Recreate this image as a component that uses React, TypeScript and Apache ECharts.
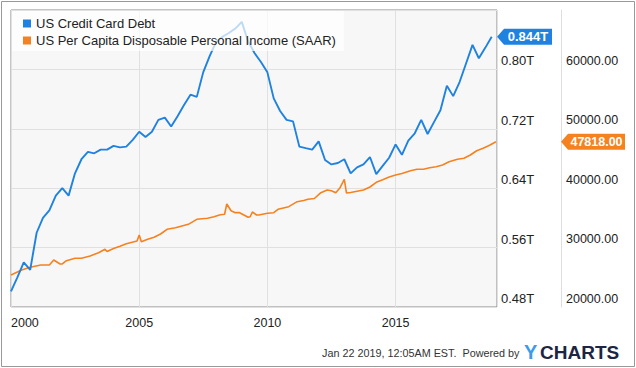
import React, { useEffect, useRef } from 'react';
import * as echarts from 'echarts';

// US Credit Card Debt (trillions USD), quarterly, first quarter-end 1999-12-31
const debtStart = { year: 1999, month: 12 };
const debtValues = [
  0.501, 0.520, 0.540, 0.530, 0.580, 0.600, 0.610, 0.630, 0.640, 0.630,
  0.660, 0.679, 0.689, 0.687, 0.692, 0.692, 0.697, 0.695, 0.696, 0.705,
  0.716, 0.709, 0.716, 0.732, 0.735, 0.723, 0.737, 0.752, 0.766, 0.763,
  0.796, 0.818, 0.837, 0.844, 0.849, 0.855, 0.864, 0.838, 0.822, 0.810,
  0.796, 0.761, 0.744, 0.732, 0.730, 0.696, 0.694, 0.692, 0.703, 0.678,
  0.672, 0.674, 0.679, 0.660, 0.668, 0.672, 0.682, 0.659, 0.670, 0.681,
  0.699, 0.685, 0.704, 0.714, 0.732, 0.713, 0.729, 0.745, 0.778, 0.764,
  0.783, 0.808, 0.833, 0.815, 0.829, 0.844,
];

// US Per Capita Disposable Personal Income (SAAR), monthly (end of month)
const incomeDates = [
  '1999-12-31', '2000-05-31', '2000-09-30', '2001-02-28', '2001-06-30', '2001-08-31', '2001-11-30', '2001-12-31',
  '2002-02-28', '2002-06-30', '2002-09-30', '2003-01-31', '2003-05-31', '2003-08-31', '2003-09-30', '2003-12-31',
  '2004-03-31', '2004-06-30', '2004-11-30', '2004-12-31', '2005-01-31', '2005-04-30', '2005-07-31', '2005-10-31',
  '2006-01-31', '2006-05-31', '2006-08-31', '2006-11-30', '2007-03-31', '2007-08-31', '2007-11-30', '2008-02-29',
  '2008-04-30', '2008-05-31', '2008-07-31', '2008-09-30', '2008-11-30', '2009-01-31', '2009-03-31', '2009-04-30',
  '2009-05-31', '2009-07-31', '2009-08-31', '2009-12-31', '2010-03-31', '2010-05-31', '2010-08-31', '2010-10-31',
  '2011-02-28', '2011-05-31', '2011-07-31', '2011-10-31', '2012-01-31', '2012-04-30', '2012-06-30', '2012-08-31',
  '2012-10-31', '2012-12-31', '2013-01-31', '2013-03-31', '2013-06-30', '2013-09-30', '2013-12-31', '2014-03-31',
  '2014-06-30', '2014-09-30', '2014-12-31', '2015-03-31', '2015-07-31', '2015-10-31', '2016-01-31', '2016-04-30',
  '2016-07-31', '2016-10-31', '2017-01-31', '2017-05-31', '2017-08-31', '2017-11-30', '2018-02-28', '2018-05-31',
  '2018-08-31', '2018-11-30',
];
const incomeValues = [
  25390, 26230, 26680, 27070, 27070, 27910, 27240, 27240,
  27800, 28200, 28200, 28590, 29140, 29710, 29340, 29850,
  30220, 30660, 31110, 32120, 30990, 31400, 31730, 32290,
  33080, 33350, 33640, 33920, 34760, 34930, 35200, 35540,
  35610, 37340, 36210, 35880, 35880, 35490, 35100, 35200,
  35990, 35490, 35490, 35770, 35880, 36450, 36720, 36890,
  37730, 37930, 38130, 38270, 39240, 39700, 39580, 39240,
  40080, 41500, 39190, 39280, 39500, 39700, 40200, 40990,
  41430, 41890, 42220, 42480, 42950, 43180, 43180, 43450,
  43620, 43910, 44460, 44870, 45030, 45590, 46310, 46720,
  47220, 47818,
];

const seriesNames = ['US Credit Card Debt', 'US Per Capita Disposable Personal Income (SAAR)'];
const xRange = { min: 2000, max: 2018.955, step: 5 };
const debtAxis = { min: 0.48, max: 0.88, step: 0.08 };
const incomeAxis = { min: 20000, max: 70000, step: 10000 };
const footerText = 'Jan 22 2019, 12:05AM EST.  Powered by';

const BLUE = '#1f82e0';
const ORANGE = '#f5821f';
const FONT = '"Liberation Sans", Arial, Helvetica, sans-serif';

function toYear(s: string): number {
  const [y, m, d] = s.split('-').map(Number);
  const start = Date.UTC(y, 0, 1);
  const end = Date.UTC(y + 1, 0, 1);
  return y + (Date.UTC(y, m - 1, d) + 86400000 - start) / (end - start);
}

function quarterEnds(startYear: number, startMonth: number, n: number): string[] {
  const out: string[] = [];
  let y = startYear;
  let m = startMonth;
  for (let i = 0; i < n; i++) {
    const last = new Date(Date.UTC(y, m, 0)).getUTCDate();
    out.push(`${y}-${String(m).padStart(2, '0')}-${String(last).padStart(2, '0')}`);
    m += 3;
    if (m > 12) { m -= 12; y += 1; }
  }
  return out;
}

export default function App() {
  const ref = useRef<HTMLDivElement>(null);

  useEffect(() => {
    if (!ref.current) return;
    const chart = echarts.init(ref.current, null, { renderer: 'svg' });
    const debtDates = quarterEnds(debtStart.year, debtStart.month, debtValues.length);
    const debtData = debtValues.map((v, i) => [toYear(debtDates[i]), v]);
    const incomeData = incomeValues.map((v, i) => [toYear(incomeDates[i]), v]);

    chart.setOption({
      animation: false,
      textStyle: { fontFamily: FONT },
      grid: {
        left: 11, right: 139, top: 10, bottom: 61,
        show: true, backgroundColor: '#f7f7f7', borderColor: '#8a8a8a', borderWidth: 1,
      },
      legend: {
        orient: 'vertical', left: 12, top: 11,
        padding: [6, 8, 4, 11], itemGap: 4, itemWidth: 8, itemHeight: 8,
        icon: 'rect', backgroundColor: 'rgba(255,255,255,0.7)', z: 10,
        textStyle: { fontSize: 13, color: '#222', fontFamily: FONT },
        data: seriesNames,
      },
      xAxis: {
        type: 'value', min: xRange.min, max: xRange.max, interval: xRange.step,
        axisLine: { show: false }, axisTick: { show: false },
        splitLine: { show: true, lineStyle: { color: '#e0e0e0', width: 1 } },
        axisLabel: {
          formatter: (v: number) => String(Math.round(v)),
          showMaxLabel: false, alignMinLabel: 'left', margin: 9,
          fontSize: 12.5, color: '#222', fontFamily: FONT,
        },
      },
      yAxis: [
        {
          type: 'value', position: 'right', min: debtAxis.min, max: debtAxis.max, interval: debtAxis.step,
          axisLine: { show: false }, axisTick: { show: false },
          splitLine: { show: true, lineStyle: { color: '#e0e0e0', width: 1 } },
          axisLabel: {
            formatter: (v: number) => v.toFixed(2) + 'T',
            showMaxLabel: false, margin: 4, verticalAlign: 'bottom', padding: [0, 0, 2, 0],
            fontSize: 13, color: '#222', fontFamily: FONT,
          },
        },
        {
          type: 'value', position: 'right', offset: 64,
          min: incomeAxis.min, max: incomeAxis.max, interval: incomeAxis.step,
          axisLine: { show: true, lineStyle: { color: '#dedede', width: 1 } },
          axisTick: { show: false }, splitLine: { show: false },
          axisLabel: {
            formatter: (v: number) => v.toFixed(2),
            showMaxLabel: false, margin: 5, verticalAlign: 'bottom', padding: [0, 0, 2, 0],
            fontSize: 12.5, color: '#222', fontFamily: FONT,
          },
        },
      ],
      series: [
        {
          name: seriesNames[0], type: 'line', xAxisIndex: 0, yAxisIndex: 0,
          data: debtData, showSymbol: false, symbol: 'none',
          lineStyle: { color: BLUE, width: 1.9 }, itemStyle: { color: BLUE }, z: 3,
        },
        {
          name: seriesNames[1], type: 'line', xAxisIndex: 0, yAxisIndex: 1,
          data: incomeData, showSymbol: false, symbol: 'none',
          lineStyle: { color: ORANGE, width: 1.6 }, itemStyle: { color: ORANGE }, z: 2,
        },
      ],
    });

    const lastDebt = debtValues[debtValues.length - 1];
    const lastIncome = incomeValues[incomeValues.length - 1];
    const yDebt = chart.convertToPixel({ yAxisIndex: 0 }, lastDebt) as number;
    const yInc = chart.convertToPixel({ yAxisIndex: 1 }, lastIncome) as number;
    const xRight = chart.convertToPixel({ xAxisIndex: 0 }, xRange.max) as number;

    const badge = (x0: number, yc: number, w: number, color: string, text: string, size: number) => [
      {
        type: 'polygon', z: 100,
        shape: { points: [[x0, yc], [x0 + 7, yc - 8], [x0 + w, yc - 8], [x0 + w, yc + 8], [x0 + 7, yc + 8]] },
        style: { fill: color },
      },
      {
        type: 'text', z: 101, x: x0 + 7 + (w - 7) / 2, y: yc,
        style: {
          text, fill: '#fff', fontSize: size, fontWeight: 'bold', fontFamily: FONT,
          textAlign: 'center', textVerticalAlign: 'middle', align: 'center', verticalAlign: 'middle',
        },
      },
    ];

    chart.setOption({
      graphic: {
        elements: [
          {
            type: 'rect', z: 0, silent: true,
            shape: { x: 1.5, y: 1.5, width: 633, height: 365 },
            style: { fill: 'none', stroke: '#999', lineWidth: 1 },
          },
          ...badge(xRight, yDebt, 55, BLUE, lastDebt.toFixed(3) + 'T', 13),
          ...badge(xRight + 64, yInc, 64, ORANGE, lastIncome.toFixed(2), 12.5),
          {
            type: 'text', x: 322, y: 353,
            style: {
              text: footerText, fill: '#333', fontSize: 10.8, fontFamily: FONT,
              textVerticalAlign: 'middle', verticalAlign: 'middle',
            },
          },
          {
            type: 'text', x: 524, y: 352,
            style: {
              text: 'Y', fill: '#3d9be9', fontSize: 20, fontWeight: 'bold', fontFamily: FONT,
              textVerticalAlign: 'middle', verticalAlign: 'middle',
            },
          },
          {
            type: 'text', x: 540, y: 352,
            style: {
              text: 'CHARTS', fill: '#1c2541', fontSize: 19, fontWeight: 'bold', fontFamily: FONT,
              textVerticalAlign: 'middle', verticalAlign: 'middle',
            },
          },
        ],
      },
    });

    return () => chart.dispose();
  }, []);

  return (
    <div
      ref={ref}
      style={{ position: 'fixed', left: 0, top: 0, width: 636, height: 368, background: '#fff' }}
    />
  );
}
